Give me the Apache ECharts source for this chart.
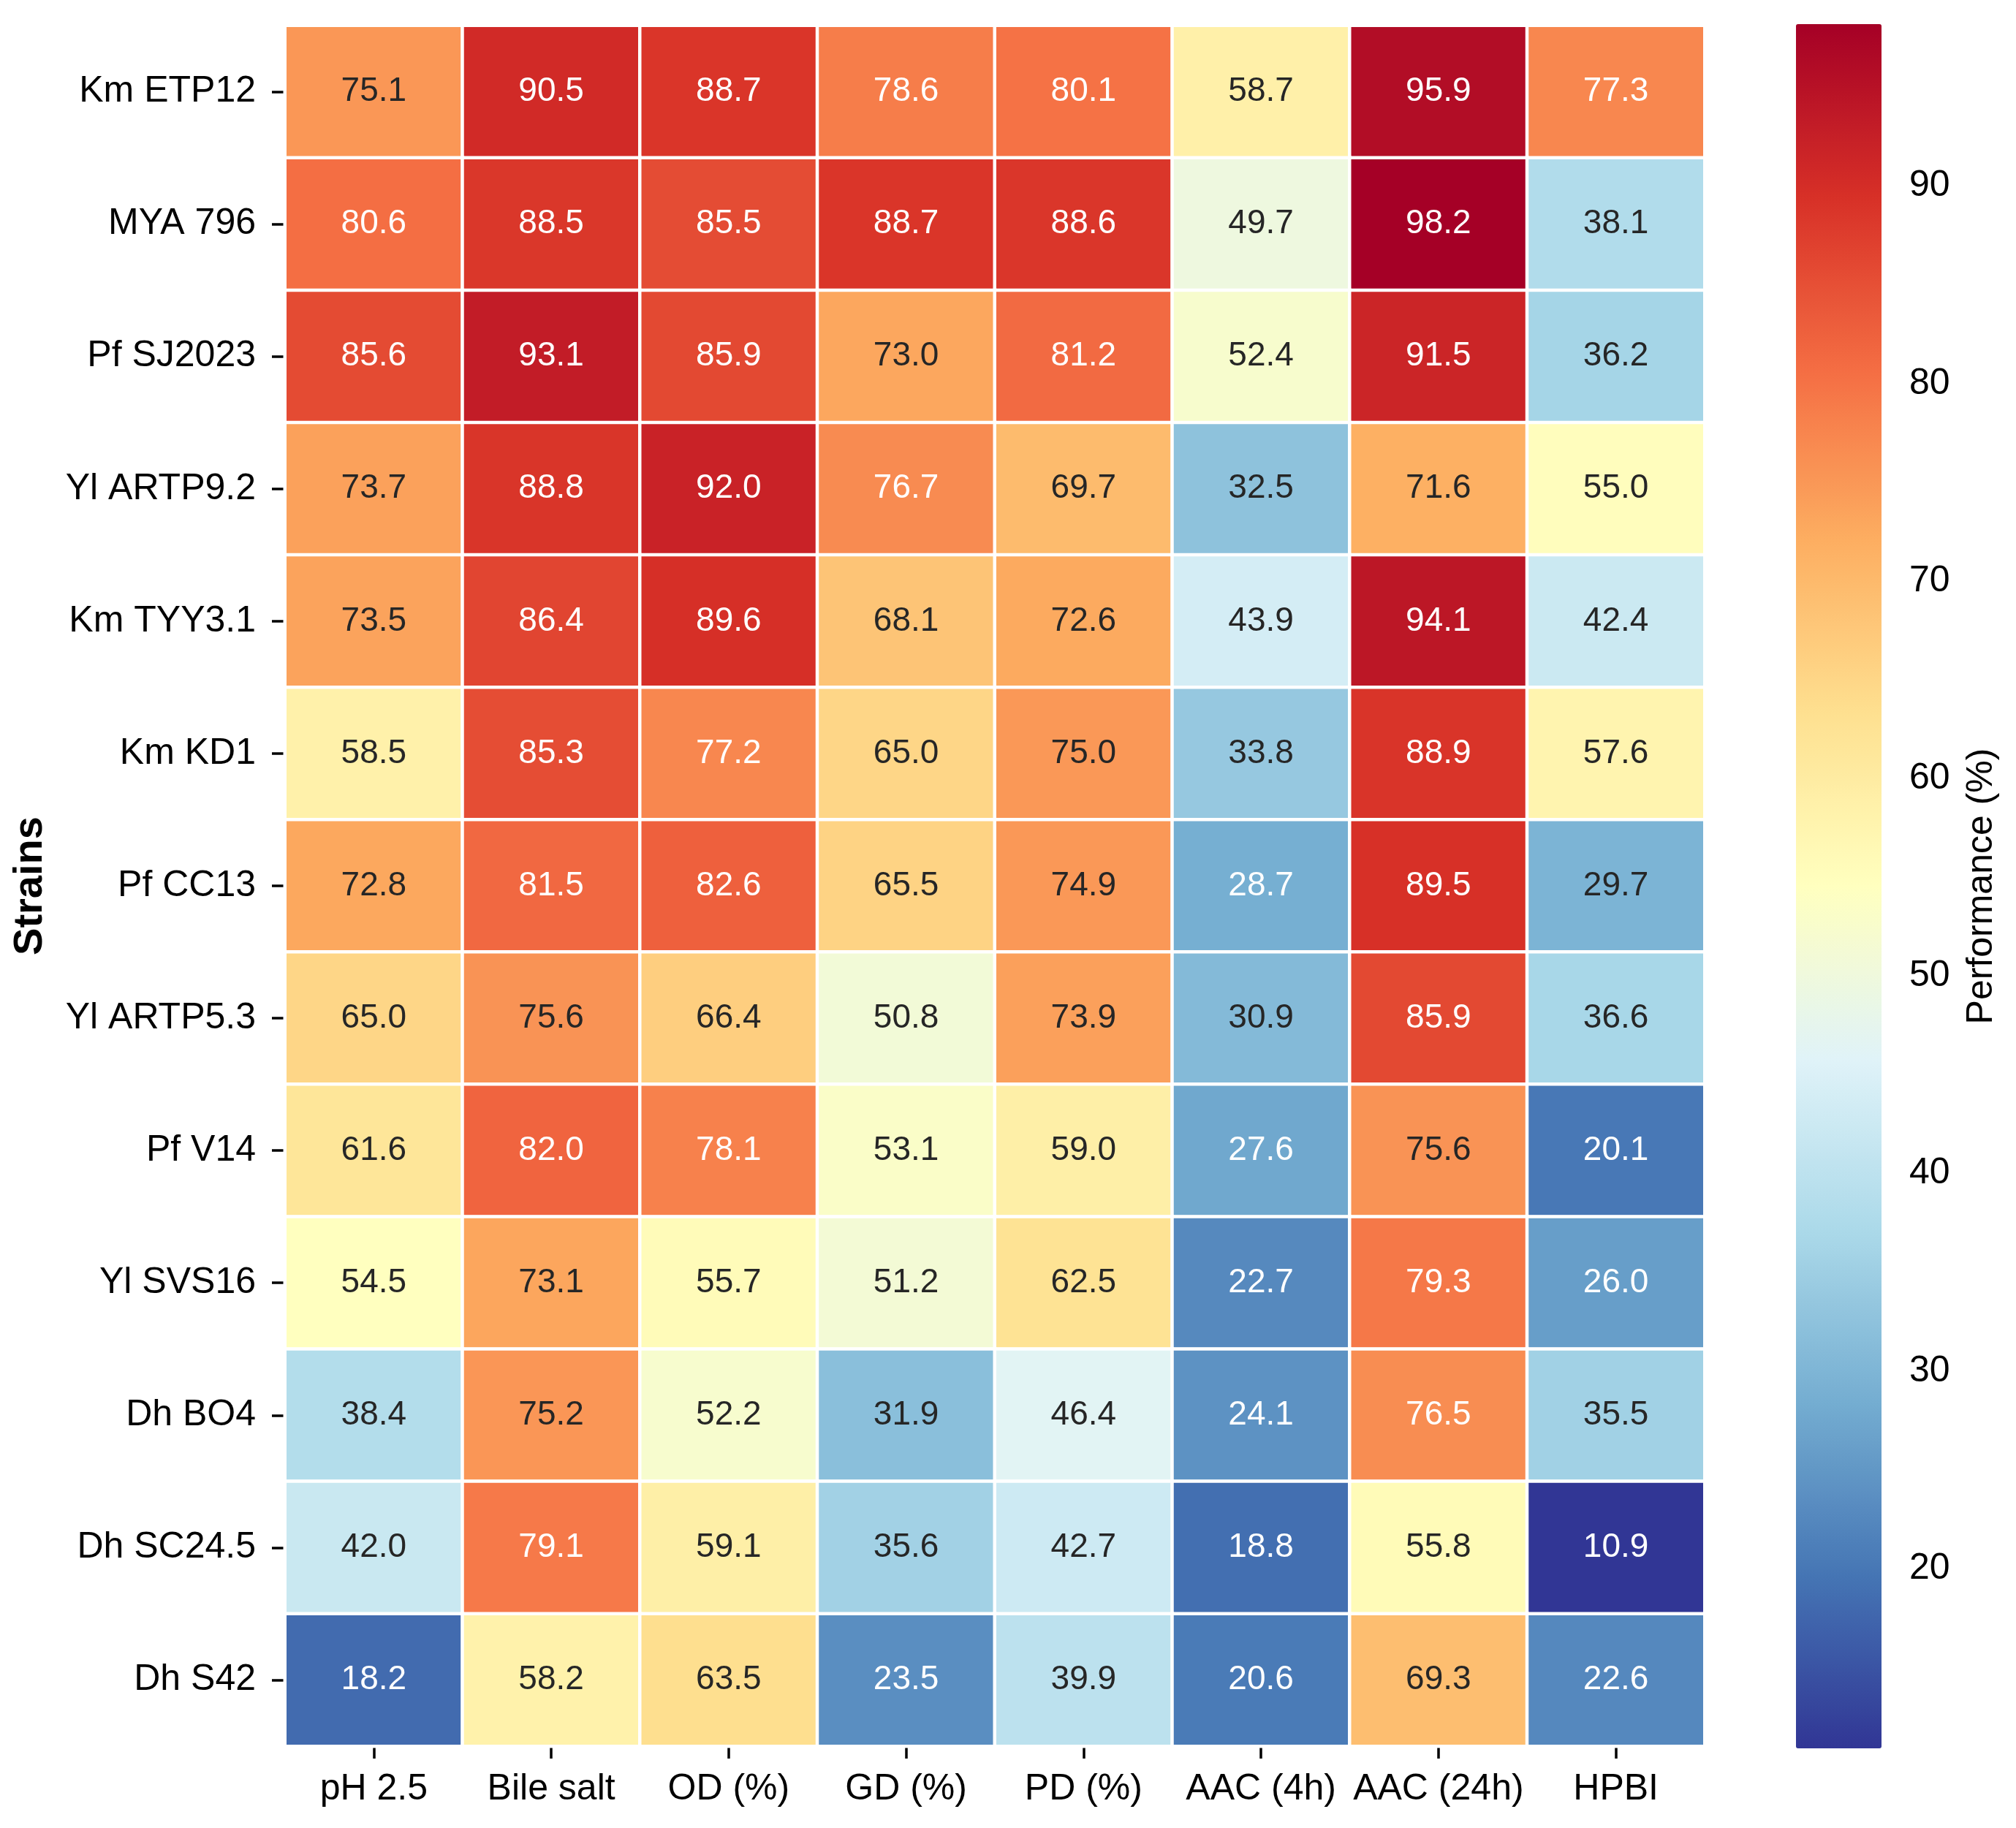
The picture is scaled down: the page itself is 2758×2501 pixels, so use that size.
<!DOCTYPE html>
<html>
<head>
<meta charset="utf-8">
<script src="https://cdn.jsdelivr.net/npm/echarts@6/dist/echarts.min.js"></script>
<style>
html,body{margin:0;padding:0;background:#fff;}
#main{width:2758px;height:2501px;}
</style>
</head>
<body>
<div id="main"></div>
<script>
// ---- data ----
var metrics = ['pH 2.5', 'Bile salt', 'OD (%)', 'GD (%)', 'PD (%)', 'AAC (4h)', 'AAC (24h)', 'HPBI'];
var strains = ['Km ETP12', 'MYA 796', 'Pf SJ2023', 'Yl ARTP9.2', 'Km TYY3.1', 'Km KD1', 'Pf CC13',
               'Yl ARTP5.3', 'Pf V14', 'Yl SVS16', 'Dh BO4', 'Dh SC24.5', 'Dh S42'];
var rowKmETP12  = [75.1, 90.5, 88.7, 78.6, 80.1, 58.7, 95.9, 77.3];
var rowMYA796   = [80.6, 88.5, 85.5, 88.7, 88.6, 49.7, 98.2, 38.1];
var rowPfSJ2023 = [85.6, 93.1, 85.9, 73.0, 81.2, 52.4, 91.5, 36.2];
var rowYlARTP92 = [73.7, 88.8, 92.0, 76.7, 69.7, 32.5, 71.6, 55.0];
var rowKmTYY31  = [73.5, 86.4, 89.6, 68.1, 72.6, 43.9, 94.1, 42.4];
var rowKmKD1    = [58.5, 85.3, 77.2, 65.0, 75.0, 33.8, 88.9, 57.6];
var rowPfCC13   = [72.8, 81.5, 82.6, 65.5, 74.9, 28.7, 89.5, 29.7];
var rowYlARTP53 = [65.0, 75.6, 66.4, 50.8, 73.9, 30.9, 85.9, 36.6];
var rowPfV14    = [61.6, 82.0, 78.1, 53.1, 59.0, 27.6, 75.6, 20.1];
var rowYlSVS16  = [54.5, 73.1, 55.7, 51.2, 62.5, 22.7, 79.3, 26.0];
var rowDhBO4    = [38.4, 75.2, 52.2, 31.9, 46.4, 24.1, 76.5, 35.5];
var rowDhSC245  = [42.0, 79.1, 59.1, 35.6, 42.7, 18.8, 55.8, 10.9];
var rowDhS42    = [18.2, 58.2, 63.5, 23.5, 39.9, 20.6, 69.3, 22.6];
var colorbarTicks = [20, 30, 40, 50, 60, 70, 80, 90];

var rows = [rowKmETP12, rowMYA796, rowPfSJ2023, rowYlARTP92, rowKmTYY31, rowKmKD1, rowPfCC13,
            rowYlARTP53, rowPfV14, rowYlSVS16, rowDhBO4, rowDhSC245, rowDhS42];

// ---- colormap (RdYlBu_r) ----
var cmap = ['#313695','#4575b4','#74add1','#abd9e9','#e0f3f8','#ffffbf','#fee090','#fdae61','#f46d43','#d73027','#a50026'];
function hexRgb(h){return [parseInt(h.substr(1,2),16),parseInt(h.substr(3,2),16),parseInt(h.substr(5,2),16)];}
var allVals = [].concat.apply([], rows);
var vmin = Math.min.apply(null, allVals), vmax = Math.max.apply(null, allVals);
function colorAt(v){
  var t = (v - vmin) / (vmax - vmin); t = Math.max(0, Math.min(1, t));
  var p = t * (cmap.length - 1), i = Math.min(Math.floor(p), cmap.length - 2), f = p - i;
  var a = hexRgb(cmap[i]), b = hexRgb(cmap[i+1]);
  return [a[0]+(b[0]-a[0])*f, a[1]+(b[1]-a[1])*f, a[2]+(b[2]-a[2])*f];
}
function lum(rgb){
  var c = rgb.map(function(x){x/=255; return x <= 0.03928 ? x/12.92 : Math.pow((x+0.055)/1.055, 2.4);});
  return 0.2126*c[0] + 0.7152*c[1] + 0.0722*c[2];
}

var data = [];
rows.forEach(function(r, ri){
  r.forEach(function(v, ci){
    data.push({value:[ci, ri, v], label:{color: lum(colorAt(v)) > 0.408 ? '#262626' : '#ffffff'}});
  });
});

var FONT = 'Liberation Sans, Arial, sans-serif';
var chart = echarts.init(document.getElementById('main'), null, {renderer:'canvas'});
chart.setOption({
  backgroundColor:'#ffffff',
  animation:false,
  grid:[
    {left:390, top:35, width:1942, height:2354},
    {left:2457, top:33, width:117, height:2359}
  ],
  xAxis:[
    {type:'category', gridIndex:0, data:metrics, position:'bottom',
     axisLine:{show:false},
     axisTick:{show:true, alignWithLabel:true, length:17, lineStyle:{color:'#000', width:3.5}},
     axisLabel:{fontFamily:FONT, fontSize:50, color:'#000', margin:34, interval:0},
     splitLine:{show:false}},
    {type:'value', gridIndex:1, show:false, min:0, max:1}
  ],
  yAxis:[
    {type:'category', gridIndex:0, data:strains, inverse:true,
     axisLine:{show:false},
     axisTick:{show:true, alignWithLabel:true, length:18, lineStyle:{color:'#000', width:3.5}},
     axisLabel:{fontFamily:FONT, fontSize:50, color:'#000', margin:40, interval:0},
     name:'Strains', nameLocation:'middle', nameRotate:90, nameGap:320,
     nameTextStyle:{fontFamily:FONT, fontSize:56, fontWeight:'bold', color:'#000'},
     splitLine:{show:false}},
    {type:'value', gridIndex:1, position:'right', min:vmin, max:vmax,
     axisLine:{show:false},
     axisTick:{show:true, length:18, customValues:colorbarTicks, lineStyle:{color:'#000', width:3.5}},
     axisLabel:{show:true, customValues:colorbarTicks, fontFamily:FONT, fontSize:50, color:'#000', margin:38},
     name:'Performance (%)', nameLocation:'middle', nameRotate:90, nameGap:112,
     nameTextStyle:{fontFamily:FONT, fontSize:50, color:'#000'},
     splitLine:{show:false}}
  ],
  visualMap:{
    type:'continuous', seriesIndex:0, min:vmin, max:vmax,
    orient:'vertical', left:2457, top:33, itemWidth:117, itemHeight:2359,
    padding:0, calculable:false, text:['',''], showLabel:false, hoverLink:false,
    inRange:{color:cmap}
  },
  series:[{
    type:'heatmap', xAxisIndex:0, yAxisIndex:0, data:data,
    itemStyle:{borderColor:'#ffffff', borderWidth:4.5},
    label:{show:true, fontFamily:FONT, fontSize:46, formatter:function(p){return p.value[2].toFixed(1);}},
    emphasis:{disabled:true}
  }]
});
</script>
</body>
</html>
